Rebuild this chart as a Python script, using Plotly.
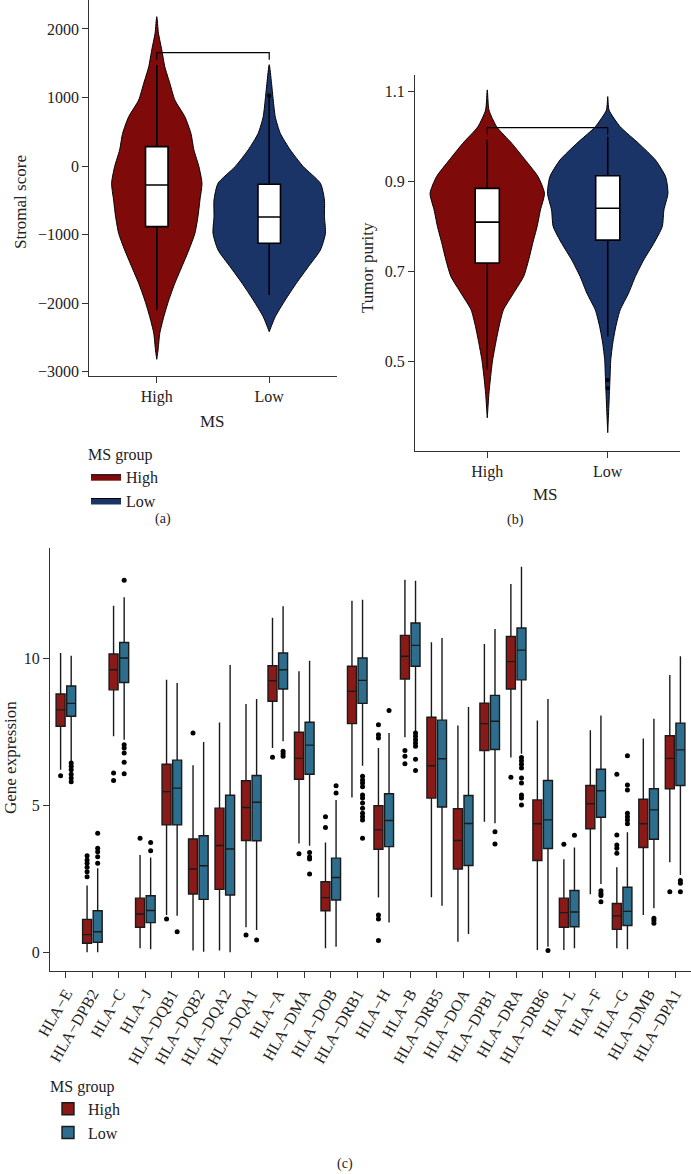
import numpy as np
import plotly.graph_objects as go

FONT = "Liberation Serif"
RED_V, BLUE_V = "#7E0A0A", "#1B3468"
RED_B, BLUE_B = "#8A1A17", "#2D6E8E"

# ---------------- panel (a): Stromal score ----------------
groups = ["High", "Low"]
stromal_high_y = [2180, 1937, 1694, 1450, 1208, 964, 720, 478, 235, -9, -251, -495, -739,
                  -981, -1224, -1468, -1710, -1954, -2198, -2440, -2683, -2819]
stromal_high_dens = [0, 1.7, 5, 8, 13, 18, 28, 34, 37, 42, 45, 43, 41, 38, 32, 25, 18, 12, 7, 3, 1.3, 0]
stromal_low_y = [1480, 1208, 964, 720, 478, 235, -9, -251, -495, -739, -981, -1224, -1468,
                 -1710, -1954, -2198, -2416]
stromal_low_dens = [0, 2.3, 4, 6, 11, 21, 34, 51, 55, 55, 56, 51, 39, 27, 16, 6, 0]
stromal_q1 = [-884, -1127]
stromal_median = [-276, -743]
stromal_q3 = [283, -266]
stromal_lower = [-2100, -1881]
stromal_upper = [1475, 990]
stromal_out_low = [1020, 1035]
stromal_bracket = [1550, 1654]

# ---------------- panel (b): Tumor purity ----------------
purity_high_y = [1.104, 1.059, 1.022, 0.985, 0.948, 0.911, 0.874, 0.837, 0.800, 0.763, 0.726,
                 0.689, 0.652, 0.615, 0.578, 0.541, 0.504, 0.467, 0.430, 0.375]
purity_high_dens = [0, 5, 28, 73, 113, 151, 170, 158, 148, 135, 123, 108, 78, 48, 35, 25, 16, 10, 5, 0]
purity_low_y = [1.089, 1.059, 1.022, 0.985, 0.948, 0.911, 0.874, 0.837, 0.800, 0.763, 0.726,
                0.689, 0.652, 0.615, 0.578, 0.541, 0.504, 0.467, 0.430, 0.342]
purity_low_dens = [0, 4, 37, 92, 142, 172, 179, 167, 162, 137, 107, 82, 62, 37, 24, 15, 9, 7, 5, 0]
purity_q1 = [0.719, 0.770]
purity_median = [0.810, 0.841]
purity_q3 = [0.885, 0.913]
purity_lower = [0.482, 0.556]
purity_upper = [0.993, 1.000]
purity_out_low = [0.459, 0.441]
purity_bracket = [1.004, 1.020]

# ---------------- panel (c): HLA gene expression ----------------
genes = ["HLA−E", "HLA−DPB2", "HLA−C", "HLA−J", "HLA−DQB1", "HLA−DQB2", "HLA−DQA2", "HLA−DQA1",
         "HLA−A", "HLA−DMA", "HLA−DOB", "HLA−DRB1", "HLA−H", "HLA−B", "HLA−DRB5", "HLA−DOA",
         "HLA−DPB1", "HLA−DRA", "HLA−DRB6", "HLA−L", "HLA−F", "HLA−G", "HLA−DMB", "HLA−DPA1"]
high_q1 = [7.68, 0.31, 8.92, 0.85, 4.33, 1.98, 2.14, 3.80, 8.53, 5.88, 1.41, 7.77, 3.50, 9.29,
           5.24, 2.83, 6.86, 8.95, 3.12, 0.85, 4.20, 0.78, 3.56, 5.56]
high_med = [8.24, 0.60, 9.60, 1.30, 5.46, 2.83, 3.63, 4.92, 9.23, 6.59, 1.86, 8.87, 4.16, 10.06,
            6.34, 3.80, 7.77, 9.88, 4.37, 1.35, 5.05, 1.24, 4.37, 6.59]
high_q3 = [8.78, 1.12, 10.14, 1.84, 6.39, 3.85, 4.90, 5.83, 9.74, 7.48, 2.40, 9.72, 4.98, 10.77,
           7.99, 4.88, 8.47, 10.73, 5.18, 1.84, 5.67, 1.66, 5.20, 7.36]
high_lo = [6.20, 0.00, 7.34, 0.14, 1.27, 0.06, 0.06, 0.85, 6.94, 3.70, 0.14, 5.26, 1.86, 7.31,
           1.87, 0.36, 4.44, 6.62, 0.08, 0.08, 1.97, 0.14, 1.27, 3.06]
high_hi = [10.17, 2.27, 11.78, 3.31, 9.26, 6.36, 7.81, 8.44, 11.37, 9.55, 3.73, 11.95, 6.94, 12.66,
           10.54, 7.71, 10.48, 12.52, 7.88, 3.16, 7.55, 2.89, 7.27, 9.42]
low_q1 = [8.02, 0.34, 9.17, 1.01, 4.33, 1.80, 1.95, 3.79, 8.95, 6.05, 1.78, 8.46, 3.59, 9.72,
          4.94, 2.95, 6.89, 9.26, 3.53, 0.87, 4.59, 0.91, 3.84, 5.67]
low_med = [8.46, 0.70, 10.00, 1.42, 5.58, 2.94, 3.51, 5.10, 9.60, 7.04, 2.54, 9.24, 4.48, 10.43,
           6.58, 4.38, 7.85, 10.27, 4.50, 1.37, 5.49, 1.39, 4.84, 6.88]
low_q3 = [9.05, 1.41, 10.53, 1.92, 6.53, 3.96, 5.34, 6.01, 10.17, 7.82, 3.20, 10.00, 5.39, 11.19,
          7.89, 5.33, 8.73, 11.02, 5.84, 2.10, 6.22, 2.21, 5.56, 7.79]
low_lo = [6.50, 0.00, 7.22, 0.10, 1.24, 0.02, 0.00, 0.76, 7.17, 3.62, 0.19, 6.34, 1.01, 7.51,
          1.58, 0.62, 4.39, 6.75, 0.19, 0.14, 2.32, 0.10, 1.50, 2.63]
low_hi = [10.08, 2.86, 12.07, 3.22, 9.15, 7.15, 9.76, 8.61, 11.76, 9.91, 5.18, 11.98, 7.45, 12.63,
          10.68, 8.34, 10.99, 13.10, 8.61, 3.56, 8.05, 4.08, 7.94, 10.06]
high_outliers = {
    "HLA−E": [6.0],
    "HLA−DPB2": [3.28, 3.14, 3.03, 2.89, 2.74, 2.57],
    "HLA−C": [6.09, 5.84],
    "HLA−J": [3.88],
    "HLA−DQB1": [1.13],
    "HLA−DQB2": [7.45],
    "HLA−DQA1": [0.59],
    "HLA−A": [6.63],
    "HLA−DMA": [3.35],
    "HLA−DOB": [4.61, 4.24],
    "HLA−H": [7.73, 7.39, 7.28, 1.27, 1.13, 0.40],
    "HLA−B": [6.86, 6.66, 6.41],
    "HLA−DRA": [5.95],
    "HLA−L": [3.67],
    "HLA−G": [6.05, 3.99, 3.65, 3.54, 3.37],
    "HLA−DPA1": [2.06],
}
low_outliers = {
    "HLA−E": [6.43, 6.32, 6.20, 6.05, 5.92, 5.80],
    "HLA−DPB2": [4.05, 3.54, 3.42, 3.25, 3.03],
    "HLA−C": [12.64, 7.05, 6.94, 6.77, 6.46, 6.07],
    "HLA−J": [3.73, 3.45],
    "HLA−DQB1": [0.70],
    "HLA−DQA1": [0.42],
    "HLA−A": [6.83, 6.75, 6.66],
    "HLA−DMA": [3.39, 3.24, 3.17, 2.66],
    "HLA−DOB": [5.66, 5.41],
    "HLA−DRB1": [5.98, 5.86, 5.75, 5.63, 5.35, 5.24, 5.07, 4.90, 4.73, 4.61, 4.50, 3.88],
    "HLA−H": [8.22],
    "HLA−B": [7.45, 7.34, 7.22, 7.11, 7.00, 6.56, 6.18],
    "HLA−DPB1": [4.10, 3.68],
    "HLA−DRA": [6.62, 6.51, 6.39, 6.26, 5.92, 5.75, 5.35, 5.24, 5.01],
    "HLA−DRB6": [0.06],
    "HLA−L": [3.98],
    "HLA−F": [2.09, 2.00, 1.93, 1.72],
    "HLA−G": [6.68, 5.69, 5.52, 4.73, 4.61, 4.50, 4.37],
    "HLA−DMB": [1.16, 1.08, 0.99],
    "HLA−DPA1": [2.44, 2.35, 2.06],
}

W, H = 691, 1174
fig = go.Figure()


def violin(ax, ay, pos, ys, dens, dmax, color, name, legend_on):
    ys = np.asarray(ys, float)
    hw = np.asarray(dens, float) / dmax * 0.5
    x = np.concatenate([pos + hw, (pos - hw)[::-1]])
    y = np.concatenate([ys, ys[::-1]])
    fig.add_trace(go.Scatter(x=x, y=y, mode="lines", fill="toself", fillcolor=color,
                             line=dict(color="black", width=1, shape="spline", smoothing=0.6),
                             name=name, legendgroup=name, showlegend=legend_on,
                             offsetgroup="violin", alignmentgroup="violin",
                             legend="legend", xaxis=ax, yaxis=ay, hoverinfo="skip"))


def box_overlay(ax, ay, q1, med, q3, lo, hi, outs, bracket):
    fig.add_trace(go.Box(x=positions, q1=q1, median=med, q3=q3, lowerfence=lo, upperfence=hi,
                         width=0.2, orientation="v", fillcolor="white",
                         line=dict(color="black", width=1.6), whiskerwidth=0, boxpoints=False,
                         showlegend=False, xaxis=ax, yaxis=ay))
    fig.add_trace(go.Scatter(x=[positions[1]] * len(outs), y=outs, mode="markers",
                             marker=dict(color="black", size=4), showlegend=False,
                             offsetgroup="overlay", alignmentgroup="overlay",
                             xaxis=ax, yaxis=ay))
    fig.add_trace(go.Scatter(x=[positions[0], positions[0], positions[1], positions[1]],
                             y=[bracket[0], bracket[1], bracket[1], bracket[0]],
                             mode="lines", line=dict(color="black", width=1.2), showlegend=False,
                             offsetgroup="overlay", alignmentgroup="overlay",
                             xaxis=ax, yaxis=ay))


positions = list(range(len(groups)))

# panel (a)
dmax_a = max(max(stromal_high_dens), max(stromal_low_dens))
violin("x", "y", positions[0], stromal_high_y, stromal_high_dens, dmax_a, RED_V, "High", True)
violin("x", "y", positions[1], stromal_low_y, stromal_low_dens, dmax_a, BLUE_V, "Low", True)
box_overlay("x4", "y4", stromal_q1, stromal_median, stromal_q3, stromal_lower, stromal_upper,
            stromal_out_low, stromal_bracket)

# panel (b)
dmax_b = max(max(purity_high_dens), max(purity_low_dens))
violin("x2", "y2", positions[0], purity_high_y, purity_high_dens, dmax_b, RED_V, "High", False)
violin("x2", "y2", positions[1], purity_low_y, purity_low_dens, dmax_b, BLUE_V, "Low", False)
box_overlay("x5", "y5", purity_q1, purity_median, purity_q3, purity_lower, purity_upper,
            purity_out_low, purity_bracket)

# panel (c)
for name, color, q1, med, q3, lo, hi, outs in [
        ("High", RED_B, high_q1, high_med, high_q3, high_lo, high_hi, high_outliers),
        ("Low", BLUE_B, low_q1, low_med, low_q3, low_lo, low_hi, low_outliers)]:
    fig.add_trace(go.Box(x=genes, q1=q1, median=med, q3=q3, lowerfence=lo, upperfence=hi,
                         name=name, orientation="v", fillcolor=color,
                         line=dict(color="#1a1a1a", width=1.4),
                         whiskerwidth=0, boxpoints=False, offsetgroup=name, alignmentgroup="c",
                         legend="legend2", xaxis="x3", yaxis="y3"))
    ox = [g for g in genes for v in outs.get(g, [])]
    oy = [v for g in genes for v in outs.get(g, [])]
    fig.add_trace(go.Scatter(x=ox, y=oy, mode="markers", marker=dict(color="black", size=5),
                             offsetgroup=name, alignmentgroup="c", showlegend=False,
                             xaxis="x3", yaxis="y3"))

axis_common = dict(showline=True, linecolor="#333", linewidth=1.3, ticks="outside", ticklen=6,
                   tickcolor="#333", tickwidth=1.2, showgrid=False, zeroline=False,
                   automargin=False, tickfont=dict(family=FONT, size=16, color="#222"))
hidden = dict(visible=False, showgrid=False, zeroline=False, automargin=False)

RANGE_A = [-3063, 2423]
RANGE_B = [0.302, 1.137]
RANGE_X = [-0.6, 1.6]


def label(text, x, y, size=17, angle=0):
    return dict(text=text, x=x / W, y=1 - y / H, xref="paper", yref="paper", showarrow=False,
                textangle=angle, xanchor="center", yanchor="middle",
                font=dict(family=FONT, size=size, color="#222"))


fig.update_layout(
    width=W, height=H, margin=dict(l=0, r=0, t=0, b=0),
    paper_bgcolor="white", plot_bgcolor="white",
    font=dict(family=FONT, size=16, color="#222"),
    boxmode="group", boxgap=0.2, boxgroupgap=0.15,
    scattermode="group", scattergap=0.2,
    xaxis=dict(domain=[89.3 / W, 336.7 / W], anchor="y", range=RANGE_X,
               tickvals=positions, ticktext=groups, **axis_common),
    yaxis=dict(domain=[1 - 376 / H, 1.0], anchor="x", range=RANGE_A,
               tickvals=[-3000, -2000, -1000, 0, 1000, 2000], **axis_common),
    xaxis4=dict(overlaying="x", anchor="y4", range=RANGE_X, **hidden),
    yaxis4=dict(overlaying="y", anchor="x4", range=RANGE_A, **hidden),
    xaxis2=dict(domain=[415 / W, 680 / W], anchor="y2", range=RANGE_X,
                tickvals=positions, ticktext=groups, **axis_common),
    yaxis2=dict(domain=[1 - 450.7 / H, 1 - 75 / H], anchor="x2", range=RANGE_B,
                tickvals=[0.5, 0.7, 0.9, 1.1], tickformat=".1f", **axis_common),
    xaxis5=dict(overlaying="x2", anchor="y5", range=RANGE_X, **hidden),
    yaxis5=dict(overlaying="y2", anchor="x5", range=RANGE_B, **hidden),
    xaxis3=dict(domain=[50 / W, 1.0], anchor="y3", range=[-0.6, 23.6], tickangle=-60,
                categoryorder="array", categoryarray=genes, **axis_common),
    yaxis3=dict(domain=[1 - 971 / H, 1 - 548 / H], anchor="x3", range=[-0.635, 13.74],
                tickvals=[0, 5, 10], **axis_common),
    legend=dict(x=86 / W, y=1 - 439 / H, xanchor="left", yanchor="top",
                bgcolor="rgba(0,0,0,0)", font=dict(family=FONT, size=16, color="#222"),
                title=dict(text="MS group", font=dict(family=FONT, size=16, color="#222")),
                tracegroupgap=0, itemwidth=30),
    legend2=dict(x=48 / W, y=1 - 1071 / H, xanchor="left", yanchor="top",
                 bgcolor="rgba(0,0,0,0)", font=dict(family=FONT, size=16, color="#222"),
                 title=dict(text="MS group", font=dict(family=FONT, size=16, color="#222")),
                 tracegroupgap=6, itemwidth=30),
    annotations=[
        label("Stromal score", 20, 202, angle=-90),
        label("MS", 212, 421),
        label("Tumor purity", 367, 267, angle=-90),
        label("MS", 545, 495),
        label("Gene expression", 11, 758, angle=-90),
        label("(a)", 163, 519, size=14),
        label("(b)", 515, 520, size=14),
        label("(c)", 345, 1164, size=14),
    ],
)

fig.write_html("out.html", config={"displayModeBar": False},
               post_script="document.body.style.margin='0';")
